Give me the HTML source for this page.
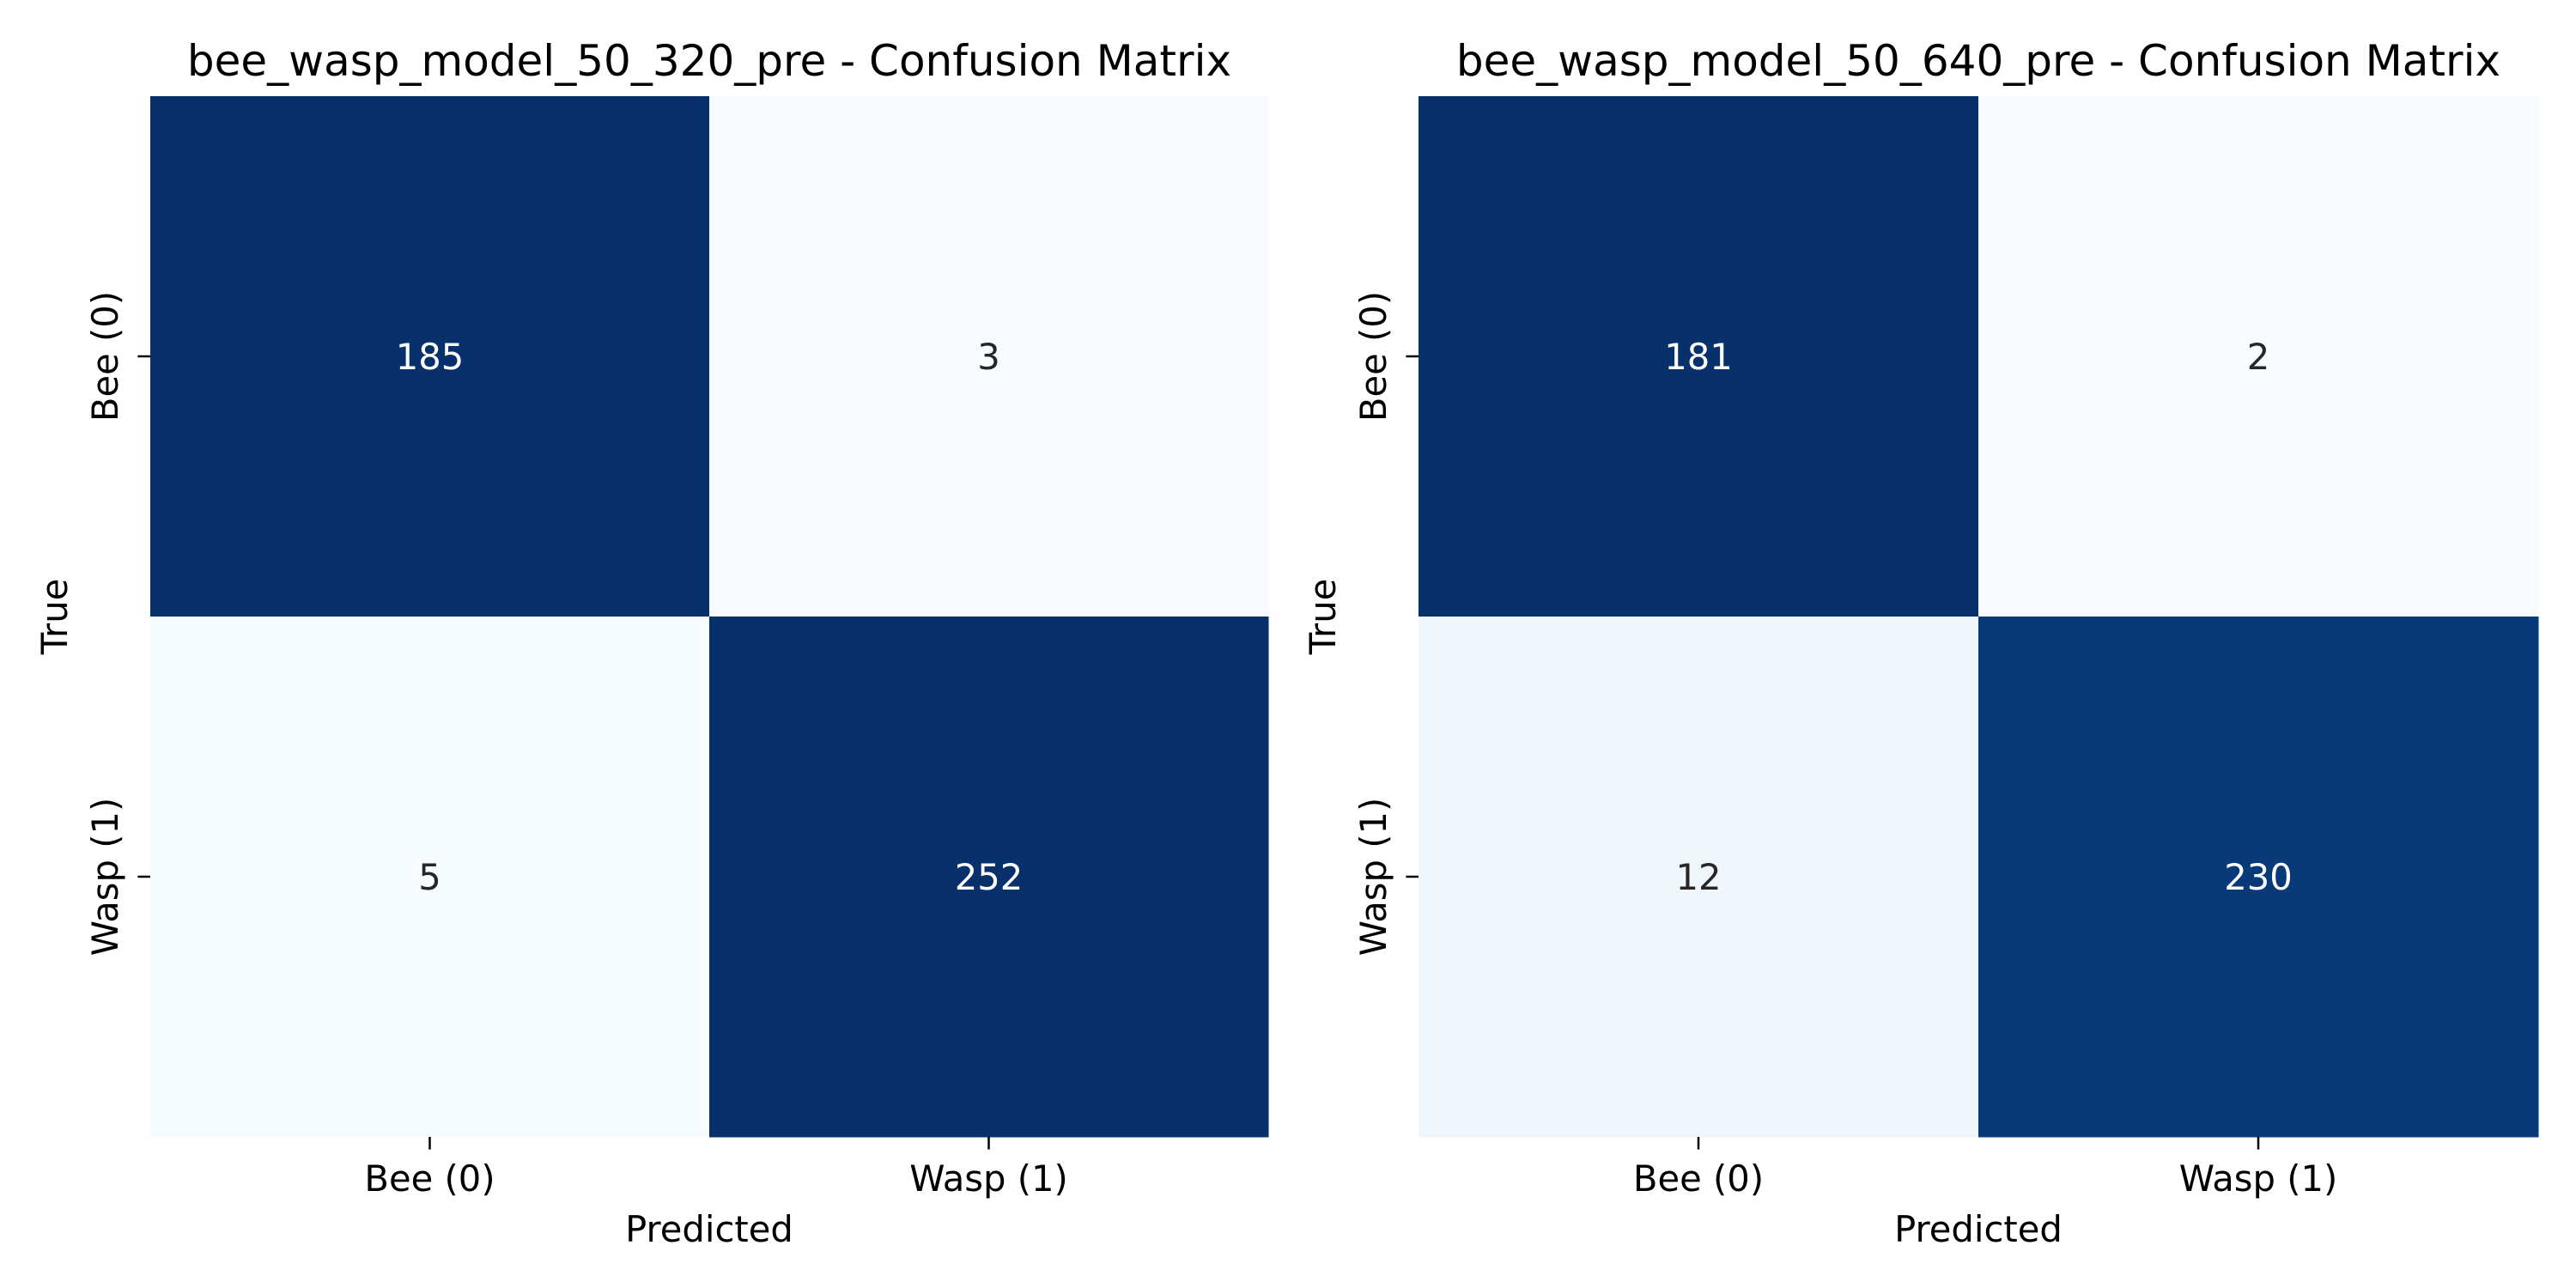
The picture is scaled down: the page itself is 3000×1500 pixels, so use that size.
<!DOCTYPE html>
<html><head><meta charset="utf-8"><style>
html,body{margin:0;padding:0;background:#fff}
svg{display:block}
text{font-family:"DejaVu Sans","Liberation Sans",sans-serif}
</style></head><body>
<svg id="fig" width="3000" height="1500" viewBox="0 0 3000 1500" xmlns="http://www.w3.org/2000/svg"></svg>
<script>
const categories = ["Bee (0)", "Wasp (1)"];
const titles = ["bee_wasp_model_50_320_pre - Confusion Matrix", "bee_wasp_model_50_640_pre - Confusion Matrix"];
const matrixA = [[185, 3], [5, 252]];
const matrixB = [[181, 2], [12, 230]];
const matrices = [matrixA, matrixB];

const NS = "http://www.w3.org/2000/svg";
const svg = document.getElementById("fig");
const panels = [{x0:175,x1:1477},{x0:1652,x1:2956}];
const Y0 = 112, Y1 = 1324;
const stops = ["#f7fbff","#deebf7","#c6dbef","#9ecae1","#6baed6","#4292c6","#2171b5","#08519c","#08306b"];
function hex(h){return [1,3,5].map(i=>parseInt(h.substr(i,2),16));}
function blues(t){
  t=Math.max(0,Math.min(1,t));
  const p=t*(stops.length-1), i=Math.min(Math.floor(p),stops.length-2), f=p-i;
  const a=hex(stops[i]), b=hex(stops[i+1]);
  const c=a.map((v,k)=>Math.round(v+(b[k]-v)*f));
  return {col:`rgb(${c[0]},${c[1]},${c[2]})`, lum:(0.299*c[0]+0.587*c[1]+0.114*c[2])};
}
function mk(tag, attrs, txt){
  const e=document.createElementNS(NS,tag);
  for(const k in attrs) e.setAttribute(k,attrs[k]);
  if(txt!==undefined) e.textContent=txt;
  svg.appendChild(e); return e;
}
matrices.forEach((m,pi)=>{
  const P=panels[pi];
  const n=categories.length;
  const cw=(P.x1-P.x0)/n, ch=(Y1-Y0)/n;
  const xs=j=>P.x0+j*cw, ys=i=>Y0+i*ch;
  const cx=(P.x0+P.x1)/2;
  const norm=m.map(row=>{const rs=row.reduce((a,b)=>a+b,0);return row.map(v=>v/rs);});
  const flat=norm.flat();
  const mn=Math.min(...flat), mx=Math.max(...flat);
  m.forEach((row,i)=>{
    row.forEach((v,j)=>{
      const c=blues((norm[i][j]-mn)/((mx-mn)||1));
      const r=mk("rect",{x:xs(j),y:ys(i),width:cw+0.5,height:ch+0.5,fill:c.col});
      
      
      const t=mk("text",{x:xs(j)+cw/2,y:ys(i)+ch/2+15,"text-anchor":"middle","font-size":"41.7",fill:c.lum<128?"#fff":"#262626"},String(v));
      
      
    });
  });
  const ti=mk("text",{x:cx,y:88,"text-anchor":"middle","font-size":"50",fill:"#000"},titles[pi]);
  
  
  categories.forEach((c,k)=>{
    const tx=xs(k)+cw/2;
    const l=mk("line",{x1:tx,x2:tx,y1:Y1,y2:Y1+14.6,stroke:"#000","stroke-width":2.5});
    
    
    const xl=mk("text",{x:tx,y:1387,"text-anchor":"middle","font-size":"41.7",fill:"#000"},c);
    
    
    const ty=ys(k)+ch/2;
    const l2=mk("line",{x1:P.x0-14.6,x2:P.x0,y1:ty,y2:ty,stroke:"#000","stroke-width":2.5});
    
    
    const lx=P.x0-38;
    const yl=mk("text",{x:lx,y:ty,"text-anchor":"middle","font-size":"41.7",fill:"#000",transform:`rotate(-90 ${lx} ${ty})`},c);
    
    
  });
  const xa=mk("text",{x:cx,y:1446,"text-anchor":"middle","font-size":"41.7",fill:"#000"},"Predicted");
  
  
  const ax=P.x0-97, ay=(Y0+Y1)/2;
  const ya=mk("text",{x:ax,y:ay,"text-anchor":"middle","font-size":"41.7",fill:"#000",transform:`rotate(-90 ${ax} ${ay})`},"True");
  
  
});
</script>
</body></html>
